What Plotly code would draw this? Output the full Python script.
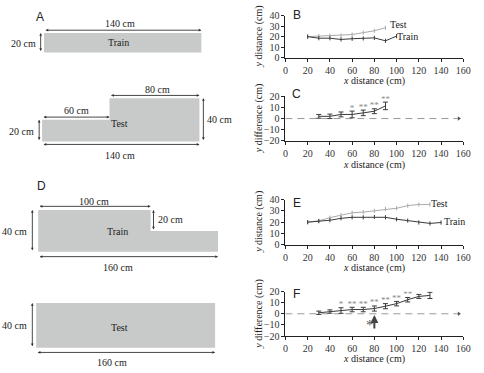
import plotly.graph_objects as go

W, H = 484, 373
SERIF = "Liberation Serif"
SANS = "Liberation Sans"
DARK = "#3a3a3a"
LIGHT = "#aaaaaa"
GRAYFILL = "#c8c9c9"

# ---------------- data ----------------
# Panel B (experiment 1 trajectories)
b_train_x = [20, 30, 40, 50, 60, 70, 80, 90, 100]
b_train_y = [20, 18.5, 18.5, 17.3, 18, 18.3, 18.8, 16, 20.5]
b_test_x = [20, 30, 40, 50, 60, 70, 80, 90]
b_test_y = [20, 20.5, 21, 21, 22, 23.8, 25.6, 28.5]
# Panel C (difference, experiment 1)
c_x = [30, 40, 50, 60, 70, 80, 90]
c_diff = [2, 2, 3.7, 3.7, 5.1, 6.6, 11.4]
c_err = [1.7, 2, 2.2, 3, 2.5, 2.2, 3.4]
c_sig = ["", "", "", "*", "**", "**", "**"]
# Panel E (experiment 2 trajectories)
e_train_x = [20, 30, 40, 50, 60, 70, 80, 90, 100, 110, 120, 130, 140]
e_train_y = [20, 20.9, 21.7, 23.4, 24.3, 24.3, 24.6, 24.3, 22.6, 21.4, 19.7, 18.9, 19.7]
e_test_x = [20, 30, 40, 50, 60, 70, 80, 90, 100, 110, 120, 130]
e_test_y = [20, 21.2, 24, 26.3, 28.3, 28.9, 30, 31.7, 32.3, 34.6, 35.7, 35.7]
# Panel F (difference, experiment 2)
f_x = [30, 40, 50, 60, 70, 80, 90, 100, 110, 120, 130]
f_diff = [0.9, 2, 2.9, 3.8, 3.8, 4.7, 6.8, 9.1, 12.6, 15.6, 16.5]
f_err = [1.5, 1.5, 2.5, 2, 2, 2.3, 2.3, 2, 2, 1.8, 2.8]
f_sig = ["", "", "*", "**", "**", "**", "**", "**", "**", "**", "**"]
f_step_x = 80  # arrow marks the step location

# Arena dimensions (cm)
a_train_len, a_train_wid = 140, 20
a_test_narrow_len, a_test_wide_len = 60, 80
a_test_narrow_wid, a_test_wide_wid = 20, 40
d_train_wide_len, d_train_narrow_len = 100, 60
d_train_wide_wid, d_train_narrow_wid = 40, 20
d_test_len, d_test_wid = 160, 40

REF_END = 156  # end of dashed zero reference line

fig = go.Figure()

# ---------------- data panels ----------------
XDOM = [289 / W, 471 / W]


def ydom(top, bottom):
    return [1 - bottom / H, 1 - top / H]


panels = [
    ("", "", [0, 40], ydom(10, 53.3)),      # B
    ("2", "2", [-20, 20], ydom(93.3, 139.3)),  # C
    ("3", "3", [0, 40], ydom(200, 246.7)),  # E
    ("4", "4", [-20, 20], ydom(295, 341)),  # F
]
for xs, ys, yr, yd in panels:
    fig.layout["xaxis" + xs] = dict(
        domain=XDOM, range=[0, 160], anchor="y" + ys, dtick=20, tick0=0,
        showline=True, linecolor="#222", linewidth=1, ticks="outside",
        ticklen=3, tickcolor="#222", showgrid=False, zeroline=False,
        tickfont=dict(family=SERIF, size=10, color="#333"), fixedrange=True)
    fig.layout["yaxis" + ys] = dict(
        domain=yd, range=yr, anchor="x" + xs, dtick=10,
        showline=True, linecolor="#222", linewidth=1, ticks="outside",
        ticklen=3, tickcolor="#222", showgrid=False, zeroline=False,
        tickfont=dict(family=SERIF, size=10, color="#333"), fixedrange=True)


def traj(x, y, color, xa, ya):
    fig.add_trace(go.Scatter(x=x, y=y, mode="lines+markers",
                             line=dict(color=color, width=1),
                             marker=dict(symbol="line-ns-open", size=3, color=color,
                                         line=dict(width=1, color=color)),
                             xaxis=xa, yaxis=ya, showlegend=False, hoverinfo="skip"))


traj(b_test_x, b_test_y, LIGHT, "x", "y")
traj(b_train_x, b_train_y, DARK, "x", "y")
traj(e_test_x, e_test_y, LIGHT, "x3", "y3")
traj(e_train_x, e_train_y, DARK, "x3", "y3")


def diff_panel(x, d, e, sig, xa, ya):
    fig.add_trace(go.Scatter(x=[0, REF_END], y=[0, 0], mode="lines",
                             line=dict(color="#999", width=1, dash="7px,5px"),
                             xaxis=xa, yaxis=ya, showlegend=False, hoverinfo="skip"))
    fig.add_trace(go.Scatter(x=[REF_END], y=[0], mode="markers",
                             marker=dict(symbol="triangle-right", size=4, color="#555"),
                             xaxis=xa, yaxis=ya, showlegend=False, hoverinfo="skip"))
    fig.add_trace(go.Scatter(x=x, y=d, mode="lines",
                             line=dict(color=DARK, width=1),
                             error_y=dict(type="data", array=e, visible=True,
                                          color=DARK, thickness=1, width=2.5),
                             xaxis=xa, yaxis=ya, showlegend=False, hoverinfo="skip"))
    fig.add_trace(go.Scatter(x=x, y=[a + b + 2.5 for a, b in zip(d, e)], mode="text",
                             text=sig, textposition="middle center",
                             textfont=dict(family=SERIF, size=9, color="#8a8a8a"),
                             xaxis=xa, yaxis=ya, showlegend=False, hoverinfo="skip"))


diff_panel(c_x, c_diff, c_err, c_sig, "x2", "y2")
diff_panel(f_x, f_diff, f_err, f_sig, "x4", "y4")

ann = []
# series labels
lab = dict(font=dict(family=SERIF, size=10, color="#222"), showarrow=False)
ann += [
    dict(x=b_test_x[-1] + 12, y=b_test_y[-1] + 3, xref="x", yref="y", text="Test", **lab),
    dict(x=b_train_x[-1] + 10, y=b_train_y[-1], xref="x", yref="y", text="Train", **lab),
    dict(x=e_test_x[-1] + 9, y=e_test_y[-1] + 0.5, xref="x3", yref="y3", text="Test", **lab),
    dict(x=e_train_x[-1] + 12, y=e_train_y[-1] + 1, xref="x3", yref="y3", text="Train", **lab),
]
# F arrow and star
ann += [
    dict(x=f_step_x, y=-1, ax=f_step_x, ay=-14.5, xref="x4", yref="y4", axref="x4", ayref="y4",
         text="", showarrow=True, arrowhead=2, arrowsize=0.8, arrowwidth=2, arrowcolor="#444",
         standoff=0, startstandoff=0),
    dict(x=f_step_x - 4, y=-10, xref="x4", yref="y4", text="*", showarrow=False,
         font=dict(family=SERIF, size=15, color="#555")),
]
# axis titles
tfont = dict(family=SERIF, size=10, color="#222")
PA = dict(xref="paper", yref="paper", xanchor="center", yanchor="middle", showarrow=False)
for yc, txt in [(31.5, "<i>y</i> distance (cm)"), (116, "<i>y</i> difference (cm)"),
                (223, "<i>y</i> distance (cm)"), (318, "<i>y</i> difference (cm)")]:
    ann.append(dict(x=262 / W, y=1 - yc / H, text=txt, textangle=-90, font=tfont, **PA))
for yc in [77, 164, 271, 365]:
    ann.append(dict(x=380 / W, y=1 - yc / H, text="<i>x</i> distance (cm)", font=tfont, **PA))
# panel letters
for (px, py, t) in [(300.7, 9, "B"), (300.7, 91, "C"), (300.7, 204, "E"), (300.7, 297.5, "F"),
                    (37.5, 11, "A"), (39.5, 186, "D")]:
    ann.append(dict(x=px / W, y=1 - py / H, text=t,
                    font=dict(family=SANS, size=12, color="#222"), **PA))

# ---------------- arena drawings ----------------


def draw_axes(n, x0px, y0px, sx, sy, xr, yr):
    fig.layout[f"xaxis{n}"] = dict(domain=[(x0px + sx * xr[0]) / W, (x0px + sx * xr[1]) / W],
                                   range=xr, visible=False, fixedrange=True, anchor=f"y{n}")
    fig.layout[f"yaxis{n}"] = dict(domain=[1 - (y0px - sy * yr[0]) / H, 1 - (y0px - sy * yr[1]) / H],
                                   range=yr, visible=False, fixedrange=True, anchor=f"x{n}")


def arena(n, xs, ys):
    fig.add_trace(go.Scatter(x=xs, y=ys, mode="lines", fill="toself", fillcolor=GRAYFILL,
                             line=dict(width=0, color=GRAYFILL), xaxis=f"x{n}", yaxis=f"y{n}",
                             showlegend=False, hoverinfo="skip"))


def dim_arrow(n, x0, y0, x1, y1):
    ann.append(dict(x=x1, y=y1, ax=x0, ay=y0, xref=f"x{n}", yref=f"y{n}",
                    axref=f"x{n}", ayref=f"y{n}", text="", showarrow=True,
                    arrowhead=2, arrowside="end+start", arrowsize=0.6, arrowwidth=0.9,
                    arrowcolor="#333", standoff=0, startstandoff=0))


def dim_text(n, x, y, t):
    ann.append(dict(x=x, y=y, xref=f"x{n}", yref=f"y{n}", text=t, showarrow=False,
                    font=dict(family=SERIF, size=10, color="#222")))


# A - train
draw_axes(5, 42, 48, 1.15, 1.0, [-36, 170], [-8, 42])
L, Wd = a_train_len, a_train_wid
arena(5, [0, L, L, 0, 0], [0, 0, Wd, Wd, 0])
dim_arrow(5, 0, Wd + 3, L, Wd + 3)
dim_text(5, 68, Wd + 10, f"{L} cm")
dim_arrow(5, -3, 0, -3, Wd)
dim_text(5, -18.5, Wd / 2 - 1, f"{Wd} cm")
dim_text(5, 66, Wd / 2, "Train")

# A - test
draw_axes(6, 40, 140, 1.15, 1.12, [-34, 180], [-18, 53])
l1, l2 = a_test_narrow_len, a_test_wide_len
w1, w2 = a_test_narrow_wid, a_test_wide_wid
arena(6, [0, l1 + l2, l1 + l2, l1, l1, 0, 0], [0, 0, w2, w2, w1, w1, 0])
dim_arrow(6, 0, w1 + 2.5, l1, w1 + 2.5)
dim_text(6, l1 / 2 + 1, w1 + 8.5, f"{l1} cm")
dim_arrow(6, l1, w2 + 2.5, l1 + l2, w2 + 2.5)
dim_text(6, l1 + l2 / 2 + 3, w2 + 8, f"{l2} cm")
dim_arrow(6, l1 + l2 + 3.5, 0, l1 + l2 + 3.5, w2)
dim_text(6, l1 + l2 + 18, w2 / 2, f"{w2} cm")
dim_arrow(6, -2.6, 0, -2.6, w1)
dim_text(6, -18.3, 9, f"{w1} cm")
dim_arrow(6, 0, -2.7, l1 + l2, -2.7)
dim_text(6, 69.5, -12.5, f"{l1 + l2} cm")
dim_text(6, 68.5, 17, "Test")

# D - train
draw_axes(7, 36, 254, 1.15, 1.08, [-31, 185], [-20, 50])
m1, m2 = d_train_wide_len, d_train_narrow_len
v1, v2 = d_train_wide_wid, d_train_narrow_wid
arena(7, [0, m1 + m2, m1 + m2, m1, m1, 0, 0], [0, 0, v2, v2, v1, v1, 0])
dim_arrow(7, 0, v1 + 3.5, m1, v1 + 3.5)
dim_text(7, m1 / 2, v1 + 8.5, f"{m1} cm")
dim_arrow(7, m1 + 2.6, v2, m1 + 2.6, v1)
dim_text(7, m1 + 18, 30.5, f"{v1 - v2} cm")
dim_arrow(7, -5.2, 0, -5.2, v1)
dim_text(7, -21, v1 / 2 - 0.5, f"{v1} cm")
dim_arrow(7, 0, -4.6, m1 + m2, -4.6)
dim_text(7, 71, -15, f"{m1 + m2} cm")
dim_text(7, 71, 19.5, "Train")

# D - test
draw_axes(8, 34, 353, 1.144, 1.15, [-29, 185], [-17, 50])
tl, tw = d_test_len, d_test_wid
arena(8, [0, tl, tl, 0, 0], [0, 0, tw, tw, 0])
dim_arrow(8, -3.5, 0, -3.5, tw)
dim_text(8, -19.2, tw / 2, f"{tw} cm")
dim_arrow(8, 0, -4.3, tl, -4.3)
dim_text(8, 67.5, -13.2, f"{tl} cm")
dim_text(8, 74.5, 18.3, "Test")

fig.update_layout(width=W, height=H, margin=dict(l=0, r=0, t=0, b=0),
                  paper_bgcolor="white", plot_bgcolor="white",
                  annotations=ann, showlegend=False)

fig.write_html("out.html")
